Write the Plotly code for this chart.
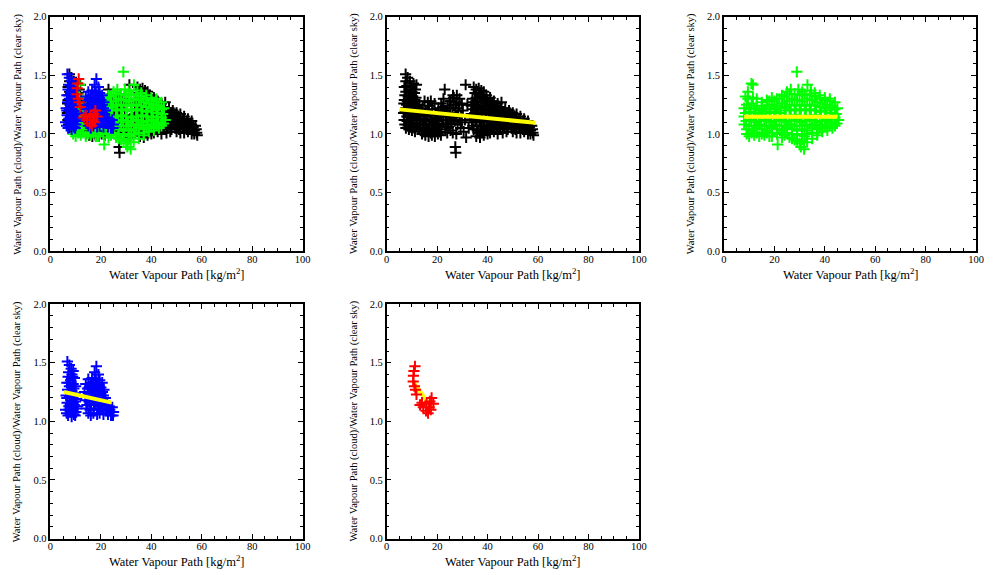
import plotly.graph_objects as go

# ---------------- data ----------------
black_x = [7.5, 8.3, 9.2, 10.6, 11.8, 7.0, 8.0, 9.0, 10.0, 11.0, 7.2, 8.5, 9.6, 10.8, 12.0, 6.8, 7.9, 9.1, 10.3, 11.5,
           7.3, 8.6, 9.8, 11.0, 12.2, 6.9, 8.1, 9.4, 10.6, 11.8, 7.6, 8.8, 10.0, 11.2, 12.6,
           7.6, 9.8, 11.4, 7.6, 8.9, 10.3, 11.6, 7.0, 8.2, 9.5, 10.8, 12.3, 7.5, 8.8, 10.0, 11.3, 6.7, 8.0, 9.3, 10.5,
           11.7, 7.2, 8.5, 9.8, 11.0, 12.3,
           13.0, 14.2, 15.5, 16.8, 18.0, 19.3, 20.5, 21.6, 13.5, 14.8, 16.1, 17.4, 18.7, 20.0, 21.2, 13.2, 14.5, 15.8,
           17.0, 18.3, 19.6, 20.9, 22.0, 14.0, 15.3, 16.6, 17.9, 19.1, 20.3, 21.5, 15.0, 17.5,
           13.8, 15.0, 16.4, 17.7, 19.0, 20.3, 21.5, 13.2, 14.2, 15.5, 16.8, 18.0, 19.4, 20.6, 21.8, 14.8, 16.2, 17.5,
           18.8, 20.0, 12.8, 22.3, 16.3, 19.0,
           23.0, 24.2, 25.4, 26.6, 27.8, 28.9, 29.8, 23.5, 24.8, 26.0, 27.2, 28.4, 29.5, 23.2, 24.5, 25.7, 27.0, 28.1,
           29.3, 26.2, 22.5, 23.0, 25.0, 26.3,
           23.8, 25.1, 26.4, 27.6, 28.8, 24.0, 25.2, 26.5, 27.7, 28.9, 29.8, 24.0, 25.3, 22.6,
           31.3, 30.2, 31.0, 32.0, 27.6, 27.2, 27.4, 32.5, 30.5, 31.5,
           34.5, 35.5, 36.5, 37.5, 38.5, 39.5, 41.0, 42.5, 44.0, 45.5, 47.0, 48.5, 50.0, 51.5, 53.0, 54.5, 56.0, 57.5,
           34.0, 35.5, 37.0, 38.5, 40.0,
           33.5, 35.0, 36.5, 38.0, 39.5, 41.0, 42.5, 44.0,
           33.5, 35.0, 36.5, 38.0, 39.5, 41.0, 42.5, 44.0, 45.5, 47.0, 48.5,
           33.8, 35.3, 36.8, 38.3, 39.8, 41.3, 42.8, 44.3, 45.8, 47.3, 48.8, 50.3, 51.8, 53.3,
           34.5, 36.0, 37.5, 39.0, 40.5, 42.0, 43.5, 45.0, 46.5, 48.0, 49.5, 51.0, 52.5, 54.0, 55.5, 57.0, 58.0,
           35.5, 37.0, 38.5, 40.0, 44.0, 50.0, 53.0, 56.0, 58.2,
           35.0, 36.5, 38.0, 39.5,
           34.2, 35.8, 37.3, 38.8, 40.3, 41.8, 43.3, 45.0,
           34.2, 35.8, 37.3, 38.8, 40.3, 41.8, 43.3, 44.8, 46.3, 47.8, 49.3, 50.8,
           33.2, 34.6, 36.1, 37.6, 39.1, 40.6, 42.1, 43.6, 45.1, 46.6, 48.1, 49.6, 51.1, 52.6, 54.1, 55.6,
           34.1, 35.6, 37.1, 38.6, 40.1, 41.6, 43.1, 44.6, 46.1, 47.6, 49.1, 50.6, 52.1, 53.6, 55.1, 56.6, 57.8,
           36.2, 38.0, 41.0, 42.5, 46.0, 47.5, 51.5, 54.5, 57.0]
black_y = [1.51, 1.48, 1.45, 1.43, 1.42, 1.40, 1.41, 1.38, 1.36, 1.35, 1.33, 1.32, 1.30, 1.29, 1.28, 1.26, 1.25, 1.23, 1.24, 1.22,
           1.19, 1.18, 1.17, 1.16, 1.15, 1.12, 1.11, 1.10, 1.09, 1.08, 1.05, 1.04, 1.03, 1.02, 1.04,
           1.45, 1.40, 1.38, 1.36, 1.34, 1.32, 1.31, 1.29, 1.28, 1.27, 1.26, 1.24, 1.22, 1.21, 1.20, 1.19, 1.18, 1.15, 1.14, 1.13,
           1.12, 1.08, 1.07, 1.06, 1.05, 1.09,
           1.25, 1.22, 1.20, 1.24, 1.21, 1.18, 1.22, 1.26, 1.16, 1.13, 1.15, 1.12, 1.10, 1.13, 1.15, 1.07, 1.05, 1.08,
           1.04, 1.03, 1.06, 1.02, 1.08, 1.00, 0.99, 0.98, 0.99, 0.98, 1.00, 0.99, 1.28, 1.28,
           1.20, 1.17, 1.19, 1.16, 1.14, 1.17, 1.20, 1.12, 1.09, 1.11, 1.08, 1.07, 1.09, 1.07, 1.12, 1.02, 1.03, 1.01,
           1.02, 1.04, 1.18, 1.23, 1.27, 1.26,
           1.20, 1.24, 1.28, 1.31, 1.33, 1.30, 1.26, 1.12, 1.15, 1.18, 1.22, 1.20, 1.16, 1.04, 1.06, 1.09, 1.11, 1.08,
           1.05, 1.01, 1.30, 1.38, 1.28, 1.33,
           1.18, 1.22, 1.25, 1.27, 1.25, 1.09, 1.12, 1.14, 1.16, 1.12, 1.10, 1.01, 1.03, 1.12,
           1.42, 1.20, 1.12, 1.25, 1.00, 0.89, 0.84, 1.05, 1.02, 0.97,
           1.40, 1.38, 1.39, 1.37, 1.36, 1.33, 1.31, 1.28, 1.26, 1.27, 1.22, 1.20, 1.18, 1.17, 1.15, 1.13, 1.11, 1.07,
           1.30, 1.31, 1.32, 1.30, 1.28,
           1.24, 1.25, 1.24, 1.23, 1.24, 1.23, 1.22, 1.21,
           1.17, 1.18, 1.17, 1.18, 1.17, 1.18, 1.17, 1.16, 1.17, 1.16, 1.15,
           1.10, 1.11, 1.10, 1.11, 1.10, 1.11, 1.10, 1.11, 1.10, 1.11, 1.10, 1.11, 1.10, 1.09,
           1.04, 1.03, 1.04, 1.03, 1.05, 1.04, 1.05, 1.04, 1.05, 1.04, 1.05, 1.04, 1.05, 1.04, 1.05, 1.03, 1.01,
           0.98, 0.97, 0.99, 1.00, 1.00, 1.02, 1.01, 1.00, 0.99,
           1.35, 1.34, 1.33, 1.30,
           1.27, 1.28, 1.27, 1.27, 1.26, 1.26, 1.24, 1.23,
           1.21, 1.21, 1.20, 1.21, 1.20, 1.20, 1.19, 1.20, 1.19, 1.18, 1.17, 1.15,
           1.14, 1.14, 1.14, 1.13, 1.14, 1.14, 1.13, 1.14, 1.13, 1.13, 1.13, 1.14, 1.13, 1.12, 1.11, 1.09,
           1.07, 1.07, 1.07, 1.07, 1.08, 1.07, 1.08, 1.07, 1.08, 1.07, 1.08, 1.07, 1.08, 1.07, 1.08, 1.06, 1.04,
           1.01, 1.02, 1.01, 1.02, 1.01, 1.02, 1.01, 1.02, 1.00]

green_x = [10.9, 11.5, 9.5, 8.5, 13, 15, 17, 19, 21, 23, 25, 26.5, 28.9, 29.5, 31, 33.1, 34.5, 36, 38, 40, 42, 44, 45,
           9, 11, 13, 15, 17, 19, 21, 23, 25, 27, 29, 31, 33, 35, 37, 39, 41, 43,
           8.5, 10.5, 12.5, 14.5, 16.5, 18.5, 20.5, 22.5, 24.5, 26.5, 28.5, 30.5, 32.5, 34.5, 36.5, 38.5, 40.5, 42.5, 44.5,
           8.8, 10.8, 12.8, 14.8, 16.8, 18.8, 20.8, 22.8, 24.8, 26.8, 28.8, 30.8, 32.8, 34.8, 36.8, 38.8, 40.8, 42.8, 44.8,
           9, 11, 13, 15, 17, 19, 21, 23, 25, 27, 29, 31, 33, 35, 37, 39, 41, 43,
           10, 12, 14, 16, 18, 21.3, 24, 26, 28, 30, 31.8, 33, 35, 37,
           19, 23, 29, 32,
           9.5, 11.5, 18, 20, 22, 24, 26, 28, 30, 32, 34, 36, 38, 40, 42,
           8, 10, 12, 14, 16, 18, 20, 22, 24, 26, 28, 30, 32, 34, 36, 38, 40, 42, 44,
           8, 10, 12, 14, 16, 18, 20, 22, 24, 26, 28, 30, 32, 34, 36, 38, 40, 42, 44, 45.5,
           8, 10, 12, 14, 16, 18, 20, 22, 24, 26, 28, 30, 32, 34, 36, 38, 40, 42, 44,
           9, 11, 13, 15, 17, 19, 21, 23, 25, 27, 29, 31, 33, 35, 37, 39, 41,
           27, 29, 31, 30.5]
green_y = [1.43, 1.42, 1.36, 1.32, 1.30, 1.27, 1.29, 1.31, 1.30, 1.33, 1.36, 1.38, 1.53, 1.38, 1.36, 1.42, 1.37, 1.35, 1.33, 1.31, 1.30, 1.27, 1.22,
           1.25, 1.26, 1.24, 1.22, 1.24, 1.25, 1.24, 1.26, 1.28, 1.30, 1.29, 1.28, 1.30, 1.29, 1.27, 1.26, 1.25, 1.24,
           1.18, 1.19, 1.18, 1.17, 1.19, 1.18, 1.19, 1.18, 1.20, 1.21, 1.20, 1.21, 1.20, 1.21, 1.20, 1.19, 1.20, 1.18, 1.17,
           1.11, 1.12, 1.10, 1.11, 1.12, 1.10, 1.11, 1.12, 1.10, 1.11, 1.12, 1.10, 1.11, 1.12, 1.10, 1.11, 1.12, 1.10, 1.09,
           1.04, 1.03, 1.05, 1.04, 1.03, 1.05, 1.04, 1.03, 1.05, 1.04, 1.03, 1.04, 1.03, 1.05, 1.04, 1.05, 1.06, 1.05,
           0.98, 0.99, 0.98, 0.99, 0.98, 0.91, 0.99, 0.97, 0.95, 0.92, 0.87, 0.93, 0.96, 0.99,
           0.98, 0.97, 0.99, 0.98,
           1.30, 1.31, 1.28, 1.28, 1.30, 1.32, 1.34, 1.34, 1.33, 1.34, 1.33, 1.32, 1.30, 1.29, 1.28,
           1.22, 1.22, 1.21, 1.20, 1.21, 1.22, 1.21, 1.22, 1.23, 1.25, 1.24, 1.25, 1.24, 1.25, 1.24, 1.23, 1.22, 1.22, 1.21,
           1.15, 1.15, 1.14, 1.15, 1.15, 1.14, 1.15, 1.15, 1.14, 1.15, 1.16, 1.15, 1.14, 1.15, 1.16, 1.15, 1.14, 1.15, 1.14, 1.12,
           1.08, 1.07, 1.07, 1.08, 1.07, 1.07, 1.08, 1.07, 1.07, 1.08, 1.07, 1.07, 1.08, 1.07, 1.08, 1.07, 1.08, 1.08, 1.07,
           1.00, 1.01, 1.01, 1.00, 1.01, 1.01, 1.00, 1.01, 1.01, 1.00, 1.00, 1.00, 1.00, 1.01, 1.01, 1.02, 1.03,
           0.96, 0.94, 0.95, 0.89]

blue_x = [6.7, 7.5, 8.2, 9.0, 8.5, 7.0, 9.5, 8.0, 6.5, 9.0, 7.5, 10.0, 6.8, 8.5, 9.8, 6.2, 7.6, 9.0, 10.4, 6.6,
          8.0, 9.4, 10.8, 6.0, 7.3, 8.7, 10.1, 7.0, 8.4, 9.8,
          7.2, 8.8, 7.4, 9.3, 7.8, 6.5, 8.3, 9.9, 7.3, 8.9, 10.3, 6.4, 8.0, 9.3,
          18.2, 17.5, 19.0, 15.0, 16.5, 18.0, 19.5, 20.5, 14.0, 15.5, 17.0, 18.5, 20.0, 21.2, 13.5, 15.0, 16.5, 18.0,
          19.5, 21.0, 13.8, 15.3, 16.8, 18.3, 19.8, 21.3, 14.2, 15.7, 17.2, 18.7, 20.2, 16.0, 18.5, 22.5, 23.5, 24.5,
          25.0, 22.8, 24.0, 21.8,
          16.0, 17.8, 19.2, 14.7, 16.2, 17.7, 19.2, 20.6, 14.2, 15.8, 17.3, 18.8, 20.4, 21.8, 14.5, 16.1, 17.6, 19.1,
          20.7, 22.2, 15.0, 17.0, 19.5, 21.0, 23.3, 24.8]
blue_y = [1.51, 1.48, 1.45, 1.43, 1.40, 1.38, 1.37, 1.35, 1.33, 1.32, 1.30, 1.30, 1.27, 1.26, 1.24, 1.22, 1.21, 1.20, 1.19, 1.16,
          1.15, 1.14, 1.13, 1.10, 1.10, 1.09, 1.08, 1.05, 1.04, 1.05,
          1.42, 1.38, 1.33, 1.28, 1.25, 1.20, 1.18, 1.17, 1.13, 1.12, 1.11, 1.07, 1.08, 1.06,
          1.47, 1.42, 1.40, 1.36, 1.37, 1.36, 1.35, 1.33, 1.32, 1.30, 1.31, 1.30, 1.29, 1.27, 1.25, 1.24, 1.25, 1.24,
          1.23, 1.22, 1.18, 1.17, 1.18, 1.17, 1.16, 1.17, 1.11, 1.10, 1.11, 1.10, 1.11, 1.05, 1.06, 1.14, 1.10, 1.12,
          1.08, 1.06, 1.05, 1.09,
          1.33, 1.33, 1.32, 1.28, 1.28, 1.27, 1.26, 1.25, 1.21, 1.21, 1.21, 1.20, 1.19, 1.20, 1.14, 1.14, 1.14, 1.13,
          1.13, 1.11, 1.07, 1.07, 1.07, 1.06, 1.13, 1.05]

red_x = [11.2, 10.8, 10.6, 10.5, 11.0, 11.4, 11.8, 13.2, 14.5, 15.8, 17.1, 17.8, 16.4, 15.6, 18.5, 16.8, 14.0, 17.5]
red_y = [1.47, 1.43, 1.39, 1.34, 1.30, 1.27, 1.23, 1.14, 1.12, 1.15, 1.17, 1.20, 1.07, 1.09, 1.15, 1.12, 1.16, 1.10]

# fitted lines (end points)
fit_black_x = [5.0, 59.0]
fit_black_y = [1.21, 1.095]
fit_green_x = [8.0, 45.0]
fit_green_y = [1.148, 1.148]
fit_blue_x = [5.4, 24.3]
fit_blue_y = [1.25, 1.16]
fit_red_x = [10.5, 18.0]
fit_red_y = [1.34, 1.11]

x_ticks = [0, 20, 40, 60, 80, 100]
y_ticks = [0.0, 0.5, 1.0, 1.5, 2.0]
x_title = "Water Vapour Path [kg/m<sup>2</sup>]"
y_title = "Water Vapour Path (cloud)/Water Vapour Path (clear sky)"

# ---------------- figure ----------------
W, H = 995, 575
FONT = "Liberation Serif"
BLACK, GREEN, BLUE, RED, YELLOW = "#000000", "#00ff00", "#0000ff", "#ff0000", "#ffff00"

# panel pixel boxes (left, right, top, bottom)
panels = [
    (48, 303, 12, 251),
    (388, 643, 12, 251),
    (729, 984, 12, 251),
    (48, 303, 305, 544),
    (388, 643, 305, 544),
]

fig = go.Figure()


def scatter(x, y, color, n):
    sfx = "" if n == 1 else str(n)
    fig.add_trace(go.Scatter(
        x=x, y=y, mode="markers", xaxis="x" + sfx, yaxis="y" + sfx,
        marker=dict(symbol="cross-thin", size=8, color=color, line=dict(color=color, width=2)),
        showlegend=False, hoverinfo="skip"))


def fitline(x, y, n):
    sfx = "" if n == 1 else str(n)
    fig.add_trace(go.Scatter(
        x=x, y=y, mode="lines", xaxis="x" + sfx, yaxis="y" + sfx,
        line=dict(color=YELLOW, width=4), showlegend=False, hoverinfo="skip"))


# panel 1: all series overlaid
scatter(black_x, black_y, BLACK, 1)
scatter(green_x, green_y, GREEN, 1)
scatter(blue_x, blue_y, BLUE, 1)
scatter(red_x, red_y, RED, 1)
# panel 2: black + fit
scatter(black_x, black_y, BLACK, 2)
fitline(fit_black_x, fit_black_y, 2)
# panel 3: green + fit
scatter(green_x, green_y, GREEN, 3)
fitline(fit_green_x, fit_green_y, 3)
# panel 4: blue + fit
scatter(blue_x, blue_y, BLUE, 4)
fitline(fit_blue_x, fit_blue_y, 4)
# panel 5: fit under red
fitline(fit_red_x, fit_red_y, 5)
scatter(red_x, red_y, RED, 5)

layout = dict(
    width=W, height=H, margin=dict(l=0, r=0, t=0, b=0),
    paper_bgcolor="white", plot_bgcolor="white",
    font=dict(family=FONT, color="black"),
    showlegend=False,
)

annotations = []
for i, (l, r, t, b) in enumerate(panels, start=1):
    sfx = "" if i == 1 else str(i)
    xd = [l / W, r / W]
    yd = [1 - b / H, 1 - t / H]
    common = dict(
        ticks="inside", ticklen=5, tickwidth=1, tickcolor="black",
        mirror="allticks", showline=True, linecolor="black", linewidth=1.5,
        showgrid=False, zeroline=False, fixedrange=True,
        tickfont=dict(family=FONT, size=10.5, color="black"),
    )
    layout["xaxis" + sfx] = dict(
        domain=xd, anchor="y" + sfx, range=[0, 100],
        tickmode="array", tickvals=x_ticks, ticktext=[str(v) for v in x_ticks],
        ticklabelstandoff=-3,
        minor=dict(tickmode="linear", tick0=0, dtick=5, ticks="inside", ticklen=3,
                   tickcolor="black", showgrid=False),
        **common)
    layout["yaxis" + sfx] = dict(
        domain=yd, anchor="x" + sfx, range=[0, 2],
        tickmode="array", tickvals=y_ticks, ticktext=[f"{v:.1f}" for v in y_ticks],
        minor=dict(tickmode="linear", tick0=0, dtick=0.1, ticks="inside", ticklen=3,
                   tickcolor="black", showgrid=False),
        **common)
    annotations.append(dict(
        text=x_title, x=(l + r) / 2 / W, y=1 - (b + 23) / H, xref="paper", yref="paper",
        xanchor="center", yanchor="middle", showarrow=False,
        font=dict(family=FONT, size=12.5, color="black")))
    annotations.append(dict(
        text=y_title, x=(l - 33) / W, y=1 - (t + b) / 2 / H, xref="paper", yref="paper",
        xanchor="center", yanchor="middle", textangle=-90, showarrow=False,
        font=dict(family=FONT, size=10.5, color="black")))

layout["annotations"] = annotations
fig.update_layout(**layout)
fig.write_html("out.html")
